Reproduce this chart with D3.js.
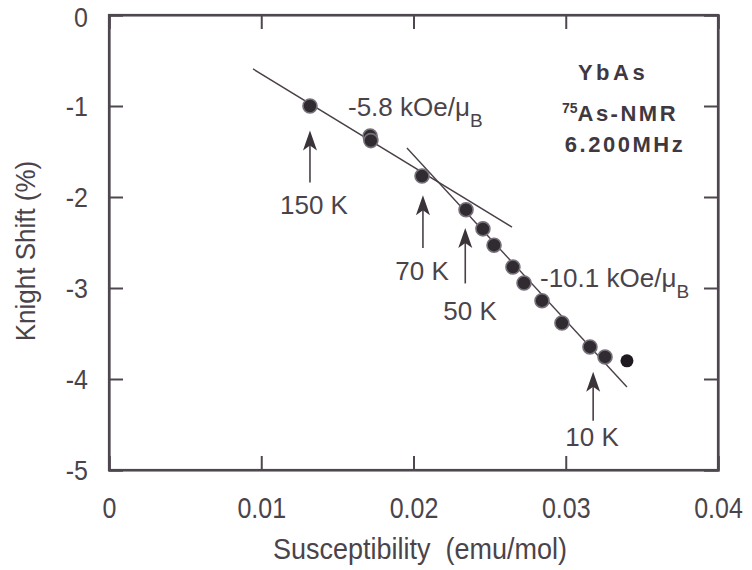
<!DOCTYPE html>
<html>
<head>
<meta charset="utf-8">
<script src="https://cdn.jsdelivr.net/npm/d3@7"></script>
<style>
  body { margin: 0; background: #fff; }
  svg { display: block; font-family: 'Liberation Sans', Arial, Helvetica, sans-serif; }
  .axis path, .axis line { stroke: #4f474f; }
  .axis text { fill: #4a444a; font-size: 25px; }
</style>
</head>
<body>
<svg class="canvas" width="752" height="570"></svg>
<script>
// susceptibility (emu/mol) and Knight shift (%)
const chi = [0.0132, 0.01715, 0.0172, 0.02056, 0.02345, 0.02456, 0.02529, 0.02653, 0.02726, 0.02844, 0.02975, 0.03159, 0.03258];
const shift = [-1.0, -1.33, -1.38, -1.77, -2.14, -2.35, -2.53, -2.77, -2.945, -3.14, -3.385, -3.648, -3.758];
// lowest-temperature point, drawn solid
const chiLast = [0.03402];
const shiftLast = [-3.80];

// fitted lines (end points)
const fitLowChi = [0.00946, 0.02647];
const fitLowShift = [-0.593, -2.33];
const fitHighChi = [0.01957, 0.03402];
const fitHighShift = [-1.462, -4.088];

// temperature arrows
const tempLabels = ['150 K', '70 K', '50 K', '10 K'];
const tempChi = [0.0132, 0.02062, 0.0234, 0.0318];
const tempTip = [-1.27, -1.98, -2.34, -3.92];
const tempTail = [-1.84, -2.56, -2.95, -4.46];

// tick values
const xTicks = [0, 0.01, 0.02, 0.03, 0.04];
const yTicks = [0, -1, -2, -3, -4, -5];

const svg = d3.select('.canvas');
const plotLeft = 109, plotRight = 718, plotTop = 15, plotBottom = 470;
const ink = '#4a444a';

// the scanned figure has slightly tall lettering: stretch text about its centre
function stretch(sel, k) {
  sel.each(function () {
    const b = this.getBBox();
    const cy = b.y + b.height / 2;
    const prev = d3.select(this).attr('transform') || '';
    d3.select(this).attr('transform', `${prev} translate(0,${cy}) scale(1,${k}) translate(0,${-cy})`);
  });
}

const x = d3.scaleLinear().domain([0, 0.04]).range([plotLeft, plotRight]);
const y = d3.scaleLinear().domain([0, -5]).range([plotTop, plotBottom]);

// frame
svg.append('rect')
  .attr('x', plotLeft).attr('y', plotTop)
  .attr('width', plotRight - plotLeft).attr('height', plotBottom - plotTop)
  .attr('fill', 'none').attr('stroke', '#4f474f').attr('stroke-width', 2.2);

// axes with inward ticks
const fmtX = (d) => (d === 0 ? '0' : d.toFixed(2));
const xAxisG = svg.append('g').attr('class', 'axis')
  .attr('transform', `translate(0,${plotBottom})`)
  .call(d3.axisBottom(x).tickValues(xTicks).tickSize(-14).tickPadding(29).tickFormat(fmtX));
svg.append('g').attr('class', 'axis')
  .attr('transform', `translate(0,${plotTop})`)
  .call(d3.axisTop(x).tickValues(xTicks).tickSize(-14).tickFormat(''));
const yAxisG = svg.append('g').attr('class', 'axis')
  .attr('transform', `translate(${plotLeft},0)`)
  .call(d3.axisLeft(y).tickValues(yTicks).tickSize(-14).tickPadding(21).tickFormat((d) => String(d)));
svg.append('g').attr('class', 'axis')
  .attr('transform', `translate(${plotRight},0)`)
  .call(d3.axisRight(y).tickValues(yTicks).tickSize(-14).tickFormat(''));
svg.selectAll('.axis path').attr('stroke-width', 2.2);
svg.selectAll('.axis line').attr('stroke-width', 2);
stretch(xAxisG.selectAll('text'), 1.18);
stretch(yAxisG.selectAll('text'), 1.14);
// keep the top "0" clear of the page edge
yAxisG.selectAll('.tick').filter((d) => d === 0).select('text').attr('y', 2);

// axis titles
const xTitle = svg.append('text')
  .attr('x', 420).attr('y', 558)
  .attr('text-anchor', 'middle')
  .attr('fill', ink).style('font-size', '27px')
  .text('Susceptibility\u00a0\u00a0(emu/mol)');
const yTitle = svg.append('text')
  .attr('transform', 'translate(34,251) rotate(-90)')
  .attr('text-anchor', 'middle')
  .attr('fill', ink).style('font-size', '26px')
  .text('Knight Shift (%)');
stretch(xTitle, 1.08);
stretch(yTitle, 1.08);

// fitted lines
const line = d3.line().x((d) => x(d[0])).y((d) => y(d[1]));
svg.append('path')
  .attr('d', line(d3.zip(fitLowChi, fitLowShift)))
  .attr('fill', 'none').attr('stroke', '#4a4048').attr('stroke-width', 1.4);
svg.append('path')
  .attr('d', line(d3.zip(fitHighChi, fitHighShift)))
  .attr('fill', 'none').attr('stroke', '#4a4048').attr('stroke-width', 1.4);

// data points
svg.selectAll('circle.pt')
  .data(d3.zip(chi, shift))
  .enter()
  .append('circle')
  .attr('class', 'pt')
  .attr('cx', (d) => x(d[0]))
  .attr('cy', (d) => y(d[1]))
  .attr('r', 7)
  .attr('fill', '#2f2b30')
  .attr('stroke', '#77707a')
  .attr('stroke-width', 1.6);
svg.selectAll('circle.last')
  .data(d3.zip(chiLast, shiftLast))
  .enter()
  .append('circle')
  .attr('class', 'last')
  .attr('cx', (d) => x(d[0]))
  .attr('cy', (d) => y(d[1]))
  .attr('r', 6.5)
  .attr('fill', '#1e1a1f');

// temperature arrows
tempLabels.forEach((t, i) => {
  const px = x(tempChi[i]);
  const tipY = y(tempTip[i]);
  const tailY = y(tempTail[i]);
  svg.append('line')
    .attr('x1', px).attr('x2', px)
    .attr('y1', tailY).attr('y2', tipY + 12)
    .attr('stroke', '#4a4048').attr('stroke-width', 1.6);
  svg.append('path')
    .attr('d', `M${px},${tipY} L${px + 7},${tipY + 20} L${px},${tipY + 15} L${px - 7},${tipY + 20} Z`)
    .attr('fill', '#3a343a');
});
const labelPos = [[314, 214], [422, 280], [470, 320], [592, 446]];
tempLabels.forEach((t, i) => {
  svg.append('text')
    .attr('x', labelPos[i][0]).attr('y', labelPos[i][1])
    .attr('text-anchor', 'middle')
    .attr('fill', ink).style('font-size', '26px')
    .text(t);
});

// slope annotations
function slopeLabel(px, py, value) {
  const t = svg.append('text')
    .attr('x', px).attr('y', py)
    .attr('fill', ink).style('font-size', '26px');
  t.append('tspan').text(`${value} kOe/\u03bc`);
  t.append('tspan').attr('dy', 11).style('font-size', '19px').text('B');
}
slopeLabel(348, 116, '-5.8');
slopeLabel(540, 287, '-10.1');

// sample label
const info = svg.append('g')
  .attr('fill', '#3f393f')
  .style('font-weight', 'bold')
  .style('font-size', '22px')
  .style('letter-spacing', '2.5px')
  .attr('text-anchor', 'middle');
info.append('text').attr('x', 613).attr('y', 80).style('letter-spacing', '3.5px').text('YbAs');
const nmr = info.append('text').attr('x', 620).attr('y', 121);
nmr.append('tspan').attr('dy', -8).style('font-size', '14px').style('letter-spacing', '0px').text('75');
nmr.append('tspan').attr('dy', 8).text('As-NMR');
info.append('text').attr('x', 625).attr('y', 152).text('6.200MHz');
</script>
</body>
</html>
